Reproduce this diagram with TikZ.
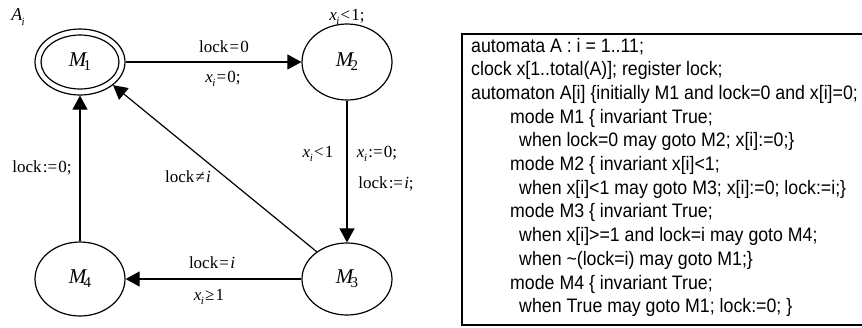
\documentclass[tikz,border=0pt]{standalone}
\usepackage{fontspec}
\setmainfont{Liberation Serif}
\newfontfamily\boxfont[FakeStretch=0.91]{Liberation Sans}
\usetikzlibrary{shapes.geometric,arrows.meta}
\newcommand{\subsz}[1]{\raisebox{-0.28em}{\fontsize{11}{12}\selectfont #1}}
\newcommand{\xsubi}{\textit{x}\kern-0.5pt\subsz{\textit{i}}}
\newcommand{\op}[1]{\kern1.2pt#1\kern1.2pt}
\newcommand{\Mlab}[1]{{\fontsize{21}{23}\selectfont\textit{M}\kern-3.5pt\raisebox{-4pt}{\fontsize{15}{16}\selectfont #1}}}
\tikzset{
  state/.style={ellipse,draw,line width=1.2pt,inner sep=0pt,minimum width=90pt},
  lbl/.style={anchor=base,inner sep=0pt,font=\fontsize{17}{19}\selectfont},
  trans/.style={line width=1.2pt,-{Triangle[length=14pt,width=15pt]}},
  codeline/.style={anchor=base west,inner sep=0pt,font=\boxfont\fontsize{19.5}{22}\selectfont},
}
\begin{document}
\begin{tikzpicture}[x=1pt,y=-1pt]
\useasboundingbox (0,0) rectangle (862,327);
% states
\node[state,minimum height=66pt] (M1) at (80,62) {\Mlab{1}};
\draw[line width=1.2pt] (M1.center) ellipse (39pt and 27pt);
\node[state,minimum height=76pt] (M2) at (347,62) {\Mlab{2}};
\node[state,minimum height=72pt] (M3) at (347,279) {\Mlab{3}};
\node[state,minimum height=74pt] (M4) at (80,279) {\Mlab{4}};
% transitions
\draw[trans] (M1.east) -- (M2.west);
\draw[trans] (M2.south) -- (M3.north);
\draw[trans] (M3.west) -- (M4.east);
\draw[trans] (M4.north) -- (M1.south);
\draw[trans] (M3.138) -- (M1.-35);
% labels
\node[lbl,font=\fontsize{18}{20}\selectfont] (Ai) at (18,20) {\textit{A}\kern-1pt\subsz{\textit{i}}};
\node[lbl] (inv2) at (347,20) {\xsubi\op{<}1;};
\node[lbl] (g12) at (224,52) {lock\op{=}0};
\node[lbl] (r12) at (223,82) {\xsubi\op{=}0;};
\node[lbl] (g23) at (318,157) {\xsubi\op{<}1};
\node[lbl] (r23a) at (377,157) {\xsubi\op{:=}0;};
\node[lbl] (r23b) at (386,188) {lock\op{:=}\textit{i};};
\node[lbl] (g31) at (188,182) {lock\op{≠}\textit{i}};
\node[lbl] (r41) at (42,172) {lock\op{:=}0;};
\node[lbl] (g34) at (212,268) {lock\op{=}\textit{i}};
\node[lbl] (g34b) at (209,300) {\xsubi\op{≥}1};
% code box
\draw[line width=2pt] (863,34) -- (462,34) -- (462,325) -- (863,325);
\node[codeline] (c1) at (471,52) {automata A : i = 1..11;};
\node[codeline] (c2) at (471,75.7) {clock x[1..total(A)]; register lock;};
\node[codeline] (c3) at (471,99.4) {automaton A[i] \{initially M1 and lock=0 and x[i]=0;};
\node[codeline] (c4) at (510,123.1) {mode M1 \{ invariant True;};
\node[codeline] (c5) at (519,146.8) {when lock=0 may goto M2; x[i]:=0;\}};
\node[codeline] (c6) at (510,170.5) {mode M2 \{ invariant x[i]<1;};
\node[codeline] (c7) at (519,194.2) {when x[i]<1 may goto M3; x[i]:=0; lock:=i;\}};
\node[codeline] (c8) at (510,217.9) {mode M3 \{ invariant True;};
\node[codeline] (c9) at (519,241.6) {when x[i]>=1 and lock=i may goto M4;};
\node[codeline] (c10) at (519,265.3) {when \textasciitilde(lock=i) may goto M1;\}};
\node[codeline] (c11) at (510,289) {mode M4 \{ invariant True;};
\node[codeline] (c12) at (519,312.7) {when True may goto M1; lock:=0; \}};
\end{tikzpicture}
\end{document}
